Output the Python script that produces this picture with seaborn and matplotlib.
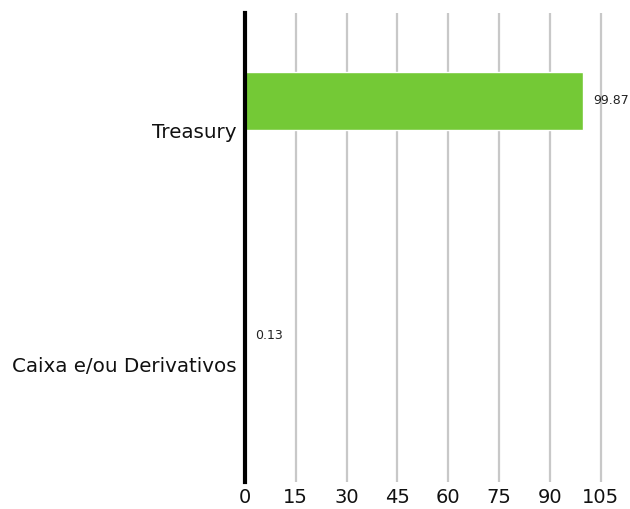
import matplotlib
matplotlib.use("Agg")
import matplotlib.pyplot as plt
import seaborn as sns
import pandas as pd

categories = ["Treasury", "Caixa e/ou Derivativos"]
values = [99.87, 0.13]
value_labels = ["99.87", "0.13"]
series = ["Alocação", "Alocação"]
hue_levels = ["Alocação", "_vazio"]
xticks = [0, 15, 30, 45, 60, 75, 90, 105]

sns.set_theme(style="white")
plt.rcParams['font.family'] = ['DejaVu Sans']

df = pd.DataFrame({"categoria": categories, "valor": values, "serie": series})

fig = plt.figure(figsize=(6.30, 5.09), dpi=100)
ax = fig.add_axes([245/630, 1 - 482/509, (604 - 245)/630, (482 - 13)/509])

sns.barplot(data=df, y="categoria", x="valor", hue="serie", hue_order=hue_levels,
            palette={"Alocação": "#74C936", "_vazio": "#74C936"}, orient="h",
            width=0.5, dodge=True, saturation=1, legend=False, ax=ax, errorbar=None)

for c in ax.containers:
    if len(c) and c.get_label() != "_vazio":
        ax.bar_label(c, labels=value_labels[:len(c)], padding=7, fontsize=9, color="#222222")

ax.set_xlim(0, 106)
ax.set_xticks(xticks)
ax.set_xticklabels([str(t) for t in xticks])
ax.set_xlabel("")
ax.set_ylabel("")
ax.grid(axis="x", color="#c8c8c8", linewidth=1.6)
ax.set_axisbelow(True)
for s in ["top", "right", "bottom"]:
    ax.spines[s].set_visible(False)
ax.spines["left"].set_color("black")
ax.spines["left"].set_linewidth(3)
ax.spines["left"].set_zorder(5)
ax.tick_params(axis="both", length=0, colors="#111111")
ax.tick_params(axis="y", pad=6, labelsize=14.3)
ax.tick_params(axis="x", pad=4, labelsize=14)

fig.savefig("out.png", dpi=100)
